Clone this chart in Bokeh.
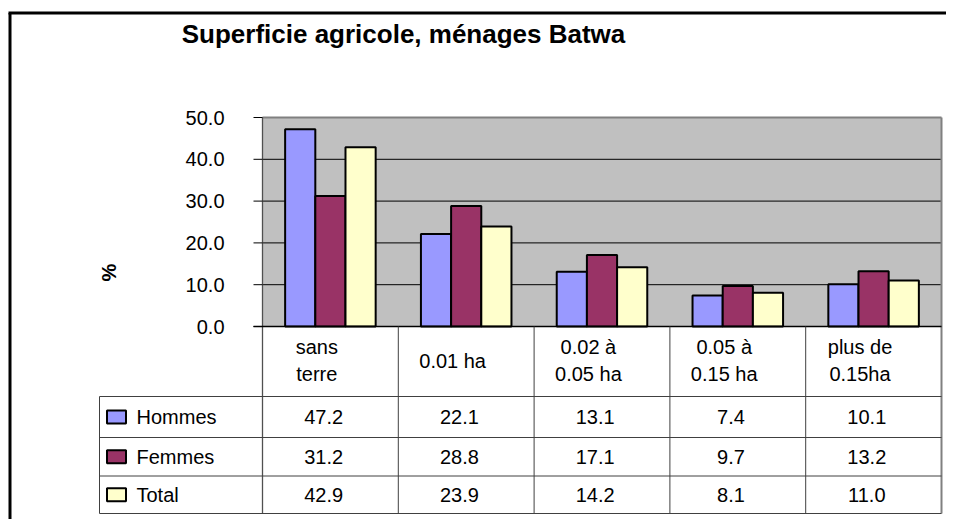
import math
from bokeh.plotting import figure
from bokeh.models import Range1d
from bokeh.core.properties import value
from bokeh.embed import file_html
from bokeh.resources import INLINE

# ---------------- data ----------------
title_text = "Superficie agricole, ménages Batwa"
y_label = "%"
categories = ["sans\nterre", "0.01 ha", "0.02 à\n0.05 ha", "0.05 à\n0.15 ha", "plus de\n0.15ha"]
series_names = ["Hommes", "Femmes", "Total"]
hommes = [47.2, 22.1, 13.1, 7.4, 10.1]
femmes = [31.2, 28.8, 17.1, 9.7, 13.2]
total = [42.9, 23.9, 14.2, 8.1, 11.0]
series_colors = ["#9999FF", "#993366", "#FFFFCC"]
y_ticks = [0, 10, 20, 30, 40, 50]

series_values = [hommes, femmes, total]

# ---------------- layout (picture pixels -> data units) ----------------
W, H = 946, 519
ORIGIN = 0
X0 = 262.0      # picture x of category 0 start
CAT_PX = 135.8  # px per category
Y0 = 326.0      # picture y of value 0
Y_PX = 4.18     # px per percent unit
FONT = "Liberation Sans"


def sx(px):
    return (px - X0) / CAT_PX


def sy(py):
    return (Y0 - py) / Y_PX


p = figure(width=W, height=H, title=None,
           x_range=Range1d(sx(ORIGIN), sx(ORIGIN + W)),
           y_range=Range1d(sy(ORIGIN + H), sy(ORIGIN)),
           x_axis_type=None, y_axis_type=None,
           toolbar_location=None, output_backend="svg",
           min_border=0, outline_line_color=None,
           background_fill_color="white", border_fill_color="white")

n = len(categories)
ymax = y_ticks[-1]

# outer frame: top and left edges (right/bottom lie beyond the picture)
p.segment(x0=[sx(8)], x1=[sx(ORIGIN + W)], y0=[sy(12.5)], y1=[sy(12.5)],
          line_color="black", line_width=3)
p.segment(x0=[sx(9.5)], x1=[sx(9.5)], y0=[sy(12.5)], y1=[sy(ORIGIN + H)],
          line_color="black", line_width=3)

# plot area background
p.quad(left=[0], right=[n], bottom=[0], top=[ymax], fill_color="#C0C0C0", line_color=None)

# gridlines
inner = [t for t in y_ticks if 0 < t < ymax]
p.segment(x0=[0] * len(inner), x1=[n] * len(inner), y0=inner, y1=inner,
          line_color="black", line_width=1)

# bars
BW = 1 / 4.5
for k, vals in enumerate(series_values):
    xs = [i + 0.5 + (k - 1) * BW for i in range(n)]
    p.vbar(x=xs, top=vals, bottom=0, width=BW, fill_color=series_colors[k],
           line_color="black", line_width=2)

# frame top and right
p.segment(x0=[0], x1=[n], y0=[ymax], y1=[ymax], line_color="#808080", line_width=2)
p.segment(x0=[n], x1=[n], y0=[ymax], y1=[sy(513)], line_color="#808080", line_width=2)
# left axis line (continues into table)
p.segment(x0=[0], x1=[0], y0=[ymax], y1=[sy(513)], line_color="#505050", line_width=1.3)
# ticks
tick_left = sx(253)
p.segment(x0=[tick_left] * len(y_ticks), x1=[0] * len(y_ticks), y0=y_ticks, y1=y_ticks,
          line_color="black", line_width=1)
# zero line
p.segment(x0=[tick_left], x1=[n], y0=[0], y1=[0], line_color="black", line_width=1.5)

# tick labels
p.text(x=[sx(224)] * len(y_ticks), y=y_ticks, text=[f"{t:.1f}" for t in y_ticks],
       text_align="right", text_baseline="middle", text_font=value(FONT),
       text_font_size="20px", text_color="black")

# y label
p.text(x=[sx(108)], y=[sy(272)], text=[y_label], angle=math.pi / 2,
       text_align="center", text_baseline="middle", text_font=value(FONT),
       text_font_size="20px", text_font_style="bold", text_color="black")

# title
p.text(x=[sx(403)], y=[sy(33)], text=[title_text], text_align="center",
       text_baseline="middle", text_font=value(FONT), text_font_size="26px",
       text_font_style="bold", text_color="black")

# ---------------- data table ----------------
row_lines_px = [396, 437, 475.5, 513]
row_lines = [sy(v) for v in row_lines_px]
tbl_left = sx(99)
line_col = "#404040"
# horizontal table lines
p.segment(x0=[tbl_left] * len(row_lines), x1=[n] * len(row_lines), y0=row_lines, y1=row_lines,
          line_color=line_col, line_width=1)
# vertical table lines
inner_cols = list(range(1, n))
p.segment(x0=inner_cols, x1=inner_cols, y0=[0] * len(inner_cols), y1=[row_lines[-1]] * len(inner_cols),
          line_color=line_col, line_width=1)
p.segment(x0=[tbl_left], x1=[tbl_left], y0=[row_lines[0]], y1=[row_lines[-1]],
          line_color=line_col, line_width=1)

# category labels
p.text(x=[i + 0.5 - 0.1 for i in range(n)], y=[sy(360)] * n, text=categories,
       text_align="center", text_baseline="middle", text_font=value(FONT),
       text_font_size="20px", text_line_height=1.27, text_color="black")

row_centers = [(row_lines[r] + row_lines[r + 1]) / 2 for r in range(3)]
key_w = 19 / CAT_PX
key_h = 13 / Y_PX
key_cx = sx(116)
for r, name in enumerate(series_names):
    yc = row_centers[r]
    p.quad(left=[key_cx - key_w / 2], right=[key_cx + key_w / 2],
           bottom=[yc - key_h / 2], top=[yc + key_h / 2],
           fill_color=series_colors[r], line_color="black", line_width=2)
    p.text(x=[sx(136)], y=[yc], text=[name], text_align="left", text_baseline="middle",
           text_font=value(FONT), text_font_size="20px", text_color="black")
    vals = series_values[r]
    p.text(x=[i + 0.5 - 0.05 for i in range(n)], y=[yc] * n, text=[f"{v:.1f}" for v in vals],
           text_align="center", text_baseline="middle", text_font=value(FONT),
           text_font_size="20px", text_color="black")

open("out.html", "w").write(file_html(p, INLINE))
